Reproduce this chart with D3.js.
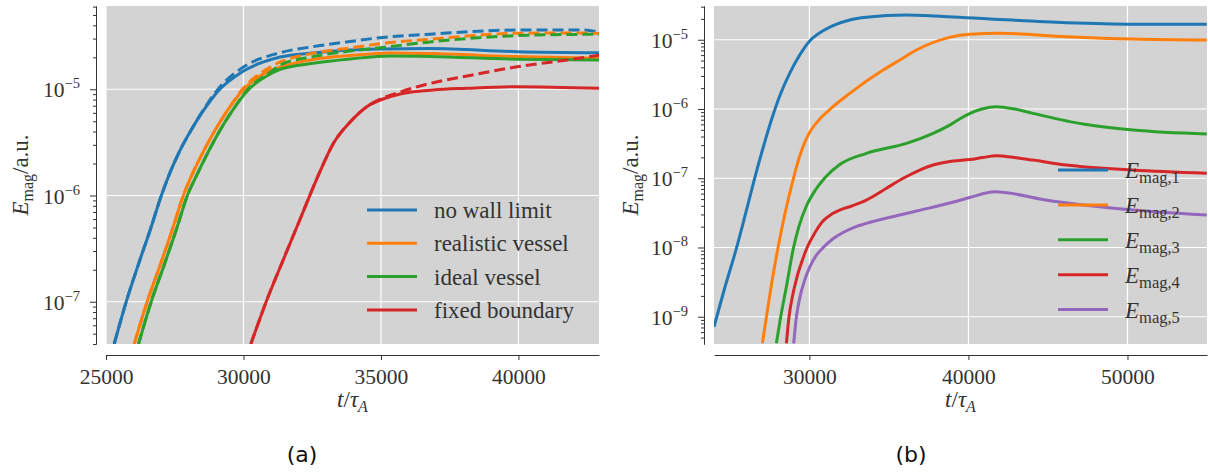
<!DOCTYPE html>
<html>
<head>
<meta charset="utf-8">
<script src="https://cdn.jsdelivr.net/npm/d3@7"></script>
<style>
  body { margin: 0; background: #fff; }
  text { fill: #333; }
  .serif { font-family: "Liberation Serif", "DejaVu Serif", serif; }
  .cap { font-family: "DejaVu Sans", sans-serif; }
</style>
</head>
<body>
<div id="chart"></div>
<script>
// ---- data panel (a) : [t/tau_A, E_mag] ----
const noWallSolid = [[25298, 4.0e-8], [25735, 1e-7], [26171, 2.22e-7], [26607, 4.73e-7], [27007, 9.9e-7], [27335, 1.66e-6],
  [27698, 2.68e-6], [28098, 4.14e-6], [28535, 6.25e-6], [29080, 9.64e-6], [29953, 1.46e-5], [31335, 2.01e-5],
  [32535, 2.2e-5], [33880, 2.34e-5], [34971, 2.39e-5], [36789, 2.42e-5], [39953, 2.26e-5], [42971, 2.21e-5]];
const noWallDashed = [[25298, 4.0e-8], [25735, 1e-7], [26171, 2.22e-7], [26607, 4.73e-7], [27007, 9.9e-7], [27335, 1.66e-6],
  [27698, 2.68e-6], [28098, 4.14e-6], [28535, 6.38e-6], [29080, 1.007e-5], [29953, 1.59e-5], [31335, 2.21e-5],
  [32535, 2.52e-5], [33880, 2.82e-5], [34971, 3.06e-5], [36789, 3.3e-5], [39953, 3.61e-5], [42317, 3.61e-5], [42971, 3.44e-5]];
const realSolid = [[26025, 4.0e-8], [26498, 1e-7], [26971, 2.22e-7], [27407, 4.73e-7], [27807, 9.9e-7], [28171, 1.66e-6],
  [28571, 2.68e-6], [28971, 4.14e-6], [29407, 6.25e-6], [29953, 9.64e-6], [30862, 1.46e-5], [31335, 1.62e-5],
  [32535, 1.908e-5], [33880, 2.08e-5], [35334, 2.2e-5], [36789, 2.17e-5], [39953, 2.03e-5], [42971, 1.96e-5]];
const realDashed = [[26025, 4.0e-8], [26498, 1e-7], [26971, 2.22e-7], [27407, 4.73e-7], [27807, 9.9e-7], [28171, 1.66e-6],
  [28571, 2.68e-6], [28971, 4.14e-6], [29407, 6.25e-6], [29953, 9.96e-6], [30862, 1.553e-5], [31335, 1.807e-5],
  [32535, 2.18e-5], [33880, 2.45e-5], [35334, 2.75e-5], [36789, 2.96e-5], [39953, 3.37e-5], [42317, 3.39e-5], [42971, 3.35e-5]];
const idealSolid = [[26182, 4.0e-8], [26644, 1e-7], [27116, 2.22e-7], [27553, 4.73e-7], [27953, 9.9e-7], [28353, 1.66e-6],
  [28753, 2.68e-6], [29153, 4.14e-6], [29589, 6.25e-6], [30135, 9.64e-6], [31044, 1.424e-5], [31335, 1.543e-5],
  [32535, 1.757e-5], [33880, 1.929e-5], [35334, 2.06e-5], [36789, 2.04e-5], [39953, 1.917e-5], [42971, 1.888e-5]];
const idealDashed = [[26182, 4.0e-8], [26644, 1e-7], [27116, 2.22e-7], [27553, 4.73e-7], [27953, 9.9e-7], [28353, 1.66e-6],
  [28753, 2.68e-6], [29153, 4.14e-6], [29589, 6.25e-6], [30135, 9.85e-6], [31044, 1.487e-5], [31335, 1.693e-5],
  [32535, 2.03e-5], [33880, 2.29e-5], [34971, 2.46e-5], [36789, 2.79e-5], [39953, 3.2e-5], [42971, 3.3e-5]];
const fixedSolid = [[30269, 4.0e-8], [30825, 1e-7], [31444, 2.47e-7], [32062, 6.01e-7], [32789, 1.7e-6], [33273, 3.1e-6],
  [33880, 4.92e-6], [34487, 6.86e-6], [35080, 8.1e-6], [35698, 9.03e-6], [36898, 9.85e-6], [38134, 1.022e-5],
  [39953, 1.058e-5], [42935, 1.022e-5]];
const fixedDashed = [[30269, 4.0e-8], [30825, 1e-7], [31444, 2.47e-7], [32062, 6.01e-7], [32789, 1.7e-6], [33273, 3.1e-6],
  [33880, 4.92e-6], [34487, 6.86e-6], [35080, 8.28e-6], [35698, 9.43e-6], [36898, 1.153e-5], [38134, 1.334e-5],
  [39953, 1.63e-5], [41771, 1.888e-5], [42971, 2.1e-5]];

// ---- data panel (b) : E_mag,1 ... E_mag,5 ----
const emag1 = [[24000, 7.17e-10], [24673, 2.6e-9], [25409, 9.72e-9], [25994, 3.14e-8], [26560, 1.007e-7], [27082, 2.73e-7],
  [27610, 6.92e-7], [28132, 1.54e-6], [28765, 3.3e-6], [29390, 6.01e-6], [30019, 9.58e-6], [30774, 1.31e-5],
  [31484, 1.6e-5], [32534, 1.93e-5], [33585, 2.11e-5], [36100, 2.27e-5], [39874, 2.08e-5], [46163, 1.76e-5],
  [50351, 1.68e-5], [54986, 1.68e-5]];
const emag2 = [[27044, 4.13e-10], [27296, 1.0e-9], [27629, 3.07e-9], [28025, 9.92e-9], [28510, 3.47e-8], [28969, 9.42e-8],
  [29390, 2.09e-7], [29767, 3.56e-7], [30145, 5.13e-7], [30648, 7.16e-7], [31277, 9.82e-7], [32535, 1.68e-6],
  [34629, 3.65e-6], [35685, 5.09e-6], [36729, 7.1e-6], [38823, 1.083e-5], [40081, 1.197e-5], [41968, 1.237e-5],
  [46163, 1.105e-5], [50351, 1.023e-5], [54986, 9.9e-6]];
const emag3 = [[27925, 4.13e-10], [28195, 1.0e-9], [28572, 2.87e-9], [28969, 9.19e-9], [29327, 1.97e-8], [29811, 3.97e-8],
  [30333, 6.53e-8], [30962, 1.007e-7], [31906, 1.577e-7], [33585, 2.29e-7], [36100, 3.19e-7], [37773, 4.45e-7],
  [38823, 5.86e-7], [39874, 8.18e-7], [40836, 9.98e-7], [41760, 1.078e-6], [42911, 9.98e-7], [44062, 8.65e-7],
  [47207, 6.06e-7], [50351, 4.97e-7], [54986, 4.35e-7]];
const emag4 = [[28554, 4.13e-10], [28717, 1.0e-9], [28950, 2.06e-9], [29201, 3.62e-9], [29516, 6.17e-9], [29849, 9.92e-9],
  [30333, 1.617e-8], [30855, 2.41e-8], [31402, 3.04e-8], [31906, 3.47e-8], [32660, 3.97e-8], [33371, 4.58e-8],
  [34107, 5.63e-8], [34843, 7.15e-8], [35868, 9.9e-8], [36937, 1.313e-7], [37773, 1.55e-7], [39031, 1.77e-7],
  [40081, 1.862e-7], [40899, 1.99e-7], [41760, 2.11e-7], [42911, 1.99e-7], [44062, 1.83e-7], [46163, 1.55e-7],
  [50351, 1.313e-7], [54986, 1.177e-7]];
const emag5 = [[29013, 4.13e-10], [29182, 1.0e-9], [29390, 1.86e-9], [29704, 3.39e-9], [30019, 5.22e-9], [30397, 7.52e-9],
  [30855, 9.92e-9], [31465, 1.324e-8], [32113, 1.644e-8], [32849, 1.974e-8], [33585, 2.23e-8], [35679, 2.94e-8],
  [36729, 3.36e-8], [38823, 4.38e-8], [40081, 5.26e-8], [41654, 6.38e-8], [45112, 4.73e-8], [49307, 3.67e-8],
  [54986, 2.94e-8]];

const colors = ["#1f77b4", "#ff7f0e", "#2ca02c", "#d62728", "#9467bd"];
const namesA = ["no wall limit", "realistic vessel", "ideal vessel", "fixed boundary"];
const ticksA = [25000, 30000, 35000, 40000];
const ticksB = [30000, 40000, 50000];
const decadesA = [-7, -6, -5];
const decadesB = [-9, -8, -7, -6, -5];

const svg = d3.select("#chart").append("svg")
  .attr("width", 1208)
  .attr("height", 476);

function drawPanel(p) {
  const x = d3.scaleLinear().domain(p.xDomain).range([p.left, p.right]);
  const y = d3.scaleLog().domain(p.yDomain).range([p.bottom, p.top]);
  const g = svg.append("g");

  g.append("rect")
    .attr("x", p.left).attr("y", p.top)
    .attr("width", p.right - p.left).attr("height", p.bottom - p.top)
    .attr("fill", "#d3d3d3");

  // white grid
  g.selectAll(".vg").data(p.xTicks).join("line")
    .attr("x1", d => x(d)).attr("x2", d => x(d))
    .attr("y1", p.top).attr("y2", p.bottom)
    .attr("stroke", "#fff").attr("stroke-width", 1.2);
  g.selectAll(".hg").data(p.decades).join("line")
    .attr("x1", p.left).attr("x2", p.right)
    .attr("y1", d => y(Math.pow(10, d))).attr("y2", d => y(Math.pow(10, d)))
    .attr("stroke", "#fff").attr("stroke-width", 1.2);

  svg.append("clipPath").attr("id", "clip" + p.id)
    .append("rect")
    .attr("x", p.left).attr("y", p.top)
    .attr("width", p.right - p.left).attr("height", p.bottom - p.top);

  const line = d3.line()
    .x(d => x(d[0]))
    .y(d => y(d[1]))
    .curve(d3.curveMonotoneX);

  const lines = g.append("g").attr("clip-path", "url(#clip" + p.id + ")");
  p.series.forEach(s => {
    lines.append("path")
      .attr("d", line(s.values))
      .attr("fill", "none")
      .attr("stroke", s.color)
      .attr("stroke-width", 3)
      .attr("stroke-dasharray", s.dashed ? "11,5" : null);
  });

  // axes, pushed out from the plot area
  const xAxis = g.append("g")
    .attr("transform", "translate(0," + (p.bottom + 11) + ")")
    .call(d3.axisBottom(x).tickValues(p.xTicks).tickSize(5).tickSizeOuter(0).tickPadding(9).tickFormat(d3.format("d")));
  xAxis.selectAll("text").attr("class", "serif").attr("font-family", null).attr("font-size", 21.5);

  const majors = p.decades.map(d => Math.pow(10, d));
  const minors = y.ticks().filter(v => Math.abs(Math.log10(v) - Math.round(Math.log10(v))) > 1e-6);
  const ax = p.left - 10;
  g.append("g")
    .attr("transform", "translate(" + ax + ",0)")
    .call(d3.axisLeft(y).tickValues(minors).tickSize(3).tickSizeOuter(0).tickFormat(""));
  g.append("g")
    .attr("transform", "translate(" + ax + ",0)")
    .call(d3.axisLeft(y).tickValues(majors).tickSize(6).tickSizeOuter(0).tickFormat(""));
  g.selectAll(".domain, .tick line").attr("stroke", "#333");

  // 10^n labels
  const lab = g.selectAll(".ylab").data(p.decades).join("text")
    .attr("class", "serif")
    .attr("x", ax - 16)
    .attr("y", d => y(Math.pow(10, d)) + 8)
    .attr("text-anchor", "end")
    .attr("font-size", 21.5);
  lab.append("tspan").text("10");
  lab.append("tspan").attr("font-size", 14.5).attr("dy", -9).text(d => "\u2212" + Math.abs(d));

  // axis titles
  const yl = g.append("text")
    .attr("class", "serif")
    .attr("transform", "translate(" + p.yLabelX + "," + ((p.top + p.bottom) / 2) + ") rotate(-90)")
    .attr("text-anchor", "middle")
    .attr("font-size", 23);
  yl.append("tspan").attr("font-style", "italic").text("E");
  yl.append("tspan").attr("font-size", 16).attr("dy", 5).text("mag");
  yl.append("tspan").attr("dy", -5).text("/a.u.");

  const xl = g.append("text")
    .attr("class", "serif")
    .attr("x", (p.left + p.right) / 2)
    .attr("y", 407)
    .attr("text-anchor", "middle")
    .attr("font-size", 23);
  xl.append("tspan").attr("font-style", "italic").text("t");
  xl.append("tspan").text("/");
  xl.append("tspan").attr("font-style", "italic").text("\u03c4");
  xl.append("tspan").attr("font-style", "italic").attr("font-size", 16).attr("dy", 5).text("A");

  // legend, no frame
  const leg = g.selectAll(".leg").data(p.legend).join("g")
    .attr("transform", (d, i) => "translate(" + p.legX + "," + (p.legY + i * p.legStep) + ")");
  leg.append("line")
    .attr("x1", 0).attr("x2", 50)
    .attr("stroke", d => d.color).attr("stroke-width", 3);
  const lt = leg.append("text")
    .attr("class", "serif")
    .attr("x", 67).attr("y", 8)
    .attr("font-size", 23);
  if (p.id === "a") {
    lt.text(d => d.name);
  } else {
    lt.append("tspan").attr("font-style", "italic").text("E");
    lt.append("tspan").attr("font-size", 16.5).attr("dy", 5).text(d => d.name);
  }

  svg.append("text")
    .attr("class", "cap")
    .attr("x", p.capX).attr("y", 462)
    .attr("text-anchor", "middle")
    .attr("font-size", 22)
    .style("fill", "#111")
    .text("(" + p.id + ")");
}

const seriesA = [];
[[noWallSolid, noWallDashed], [realSolid, realDashed], [idealSolid, idealDashed], [fixedSolid, fixedDashed]]
  .forEach((pair, i) => {
    seriesA.push({ values: pair[0], color: colors[i], dashed: false });
    seriesA.push({ values: pair[1], color: colors[i], dashed: true });
  });

drawPanel({
  id: "a",
  left: 106, right: 599, top: 6, bottom: 344,
  xDomain: [25000, 42930], yDomain: [4.0e-8, 6.08e-5],
  xTicks: ticksA, decades: decadesA,
  series: seriesA,
  legend: namesA.map((n, i) => ({ name: n, color: colors[i] })),
  legX: 367, legY: 210, legStep: 33.3,
  yLabelX: 28, capX: 302
});

drawPanel({
  id: "b",
  left: 714, right: 1207, top: 6, bottom: 344,
  xDomain: [24000, 55000], yDomain: [4.04e-10, 3.07e-5],
  xTicks: ticksB, decades: decadesB,
  series: [emag1, emag2, emag3, emag4, emag5].map((v, i) => ({ values: v, color: colors[i], dashed: false })),
  legend: [1, 2, 3, 4, 5].map((k, i) => ({ name: "mag," + k, color: colors[i] })),
  legX: 1058, legY: 170, legStep: 34.9,
  yLabelX: 638, capX: 911
});
</script>
</body>
</html>
